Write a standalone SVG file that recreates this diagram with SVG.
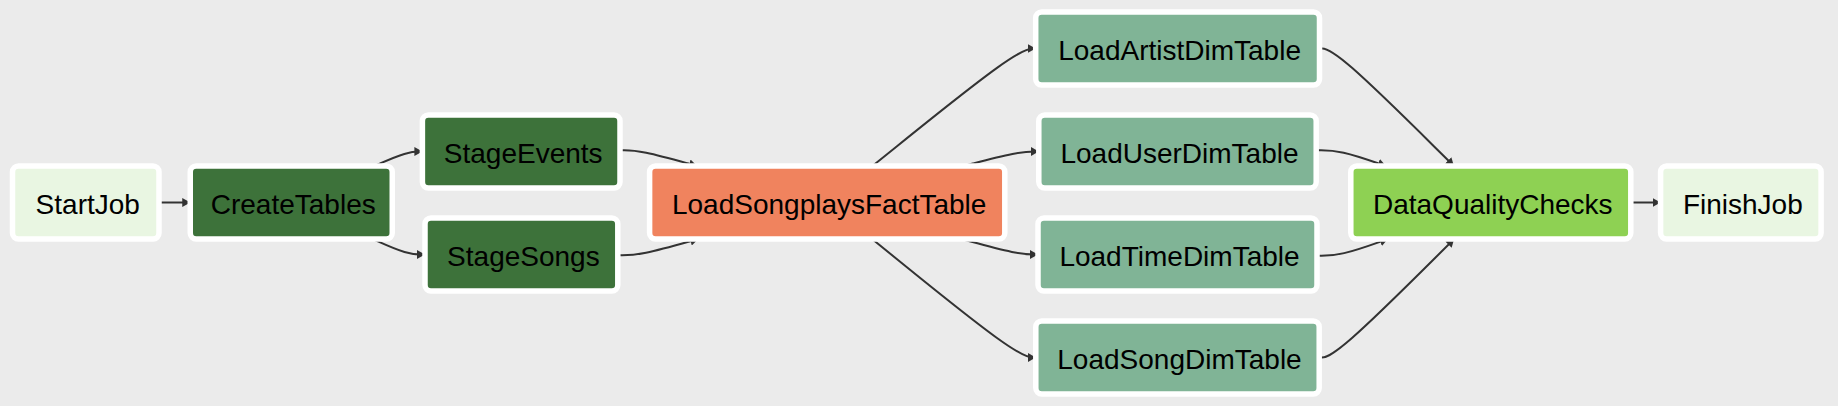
<svg xmlns="http://www.w3.org/2000/svg" width="1838" height="406" viewBox="0 0 1838 406">
<style>
.node rect{stroke:#ffffff;stroke-width:5.5}
.node text{font-family:"Liberation Sans",Arial,Helvetica,sans-serif;font-size:28px;fill:#000000;text-anchor:middle}
.light rect{fill:#e9f6e2}
.dark rect{fill:#3d723a}
.fact rect{fill:#f0835e}
.dim rect{fill:#80b496}
.dq rect{fill:#8ed153}
#edges path{fill:none;stroke:#333333;stroke-width:2;marker-end:url(#arrow)}
</style>
<defs>
<marker id="arrow" markerUnits="userSpaceOnUse" viewBox="0 0 8 9" refX="8" refY="4.5" markerWidth="8" markerHeight="9" orient="auto">
<path d="M0,0 L8,4.5 L0,9 z" fill="#333333"/>
</marker>
</defs>
<rect x="0" y="0" width="1838" height="406" fill="#ebebeb"/>
<g id="edges">
<path d="M159,202.5 L190.25,202.5"/>
<path d="M374.31,166 L379.81,163.58 C385.31,161.17 396.30,156.33 404.32,153.92 C412.33,151.5 417.37,151.5 419.88,151.5 L422.4,151.5"/>
<path d="M372.71,239 L378.48,241.58 C384.24,244.17 395.77,249.33 404.49,251.92 C413.2,254.5 419.1,254.5 422.05,254.5 L425,254.5"/>
<path d="M620,150.25 L623.33,150.21 C626.67,150.17 633.33,150.08 646.18,152.71 C659.02,155.33 678.03,160.67 687.54,163.33 L697.05,166"/>
<path d="M617.8,255.31 L621.5,255.34 C625.2,255.37 632.6,255.44 646.01,252.72 C659.43,250 678.85,244.5 688.57,241.75 L698.28,239"/>
<path d="M872.42,166 L896.68,146.42 C920.95,126.83 969.47,87.67 996.69,68.08 C1023.9,48.5 1029.8,48.5 1032.75,48.5 L1035.7,48.5"/>
<path d="M963.75,166 L972.79,163.58 C981.83,161.17 999.92,156.33 1012.43,153.92 C1024.93,151.5 1031.87,151.5 1035.33,151.5 L1038.8,151.5"/>
<path d="M961.13,239 L970.61,241.58 C980.09,244.17 999.04,249.33 1011.86,251.92 C1024.67,254.5 1031.33,254.5 1034.67,254.5 L1038,254.5"/>
<path d="M872.13,239 L896.44,258.75 C920.75,278.5 969.38,318 996.66,337.75 C1023.93,357.5 1029.87,357.5 1032.83,357.5 L1035.8,357.5"/>
<path d="M1319.5,48.5 L1322.1,48.5 C1324.7,48.5 1329.9,48.5 1352.3,68.08 C1374.7,87.67 1414.3,126.83 1434.1,146.42 L1453.9,166"/>
<path d="M1316.2,150.22 L1320.17,150.18 C1324.13,150.15 1332.07,150.07 1343.69,152.7 C1355.32,155.33 1370.64,160.67 1378.3,163.33 L1385.96,166"/>
<path d="M1317,255.79 L1320.83,255.83 C1324.67,255.86 1332.33,255.93 1344.15,253.13 C1355.97,250.33 1371.95,244.67 1379.93,241.83 L1387.92,239"/>
<path d="M1319.2,357.5 L1321.85,357.5 C1324.5,357.5 1329.8,357.5 1352.29,337.75 C1374.78,318 1414.46,278.5 1434.3,258.75 L1454.14,239"/>
<path d="M1630.8,202.5 L1660.6,202.5"/>
</g>
<g id="StartJob" class="node light"><rect x="12.5" y="166" width="146.5" height="73" rx="6"/><text x="87.75" y="214">StartJob</text></g>
<g id="CreateTables" class="node dark"><rect x="190.25" y="166" width="202" height="73" rx="6"/><text x="293.25" y="214">CreateTables</text></g>
<g id="StageEvents" class="node dark"><rect x="422.4" y="115" width="197.6" height="73" rx="6"/><text x="523.2" y="163">StageEvents</text></g>
<g id="StageSongs" class="node dark"><rect x="425" y="218" width="192.8" height="73" rx="6"/><text x="523.4" y="266">StageSongs</text></g>
<g id="LoadSongplaysFactTable" class="node fact"><rect x="649.6" y="166" width="355.2" height="73" rx="6"/><text x="829.2" y="214">LoadSongplaysFactTable</text></g>
<g id="LoadArtistDimTable" class="node dim"><rect x="1035.7" y="12" width="283.8" height="73" rx="6"/><text x="1179.6" y="60">LoadArtistDimTable</text></g>
<g id="LoadUserDimTable" class="node dim"><rect x="1038.8" y="115" width="277.4" height="73" rx="6"/><text x="1179.5" y="163">LoadUserDimTable</text></g>
<g id="LoadTimeDimTable" class="node dim"><rect x="1038" y="218" width="279" height="73" rx="6"/><text x="1179.5" y="266">LoadTimeDimTable</text></g>
<g id="LoadSongDimTable" class="node dim"><rect x="1035.8" y="321" width="283.4" height="73" rx="6"/><text x="1179.5" y="369">LoadSongDimTable</text></g>
<g id="DataQualityChecks" class="node dq"><rect x="1350.8" y="166" width="280" height="73" rx="6"/><text x="1492.8" y="214">DataQualityChecks</text></g>
<g id="FinishJob" class="node light"><rect x="1660.6" y="166" width="160.5" height="73" rx="6"/><text x="1742.85" y="214">FinishJob</text></g>
</svg>
